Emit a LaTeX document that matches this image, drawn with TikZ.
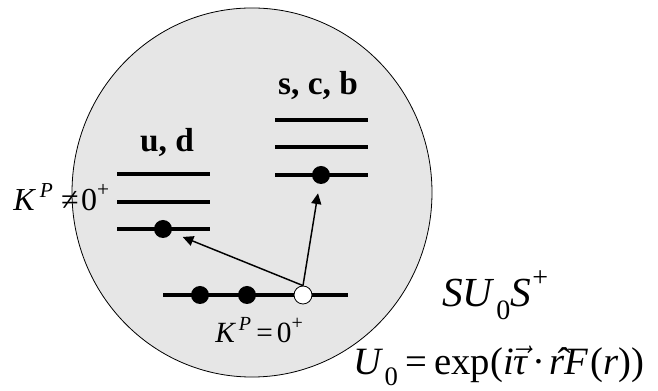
\documentclass[tikz,border=0pt]{standalone}
\usepackage{fix-cm}
\usepackage{fontspec}
\setmainfont{Liberation Serif}
\usetikzlibrary{arrows.meta}
\definecolor{bodygray}{RGB}{230,230,230}
\newcommand{\fsz}[1]{\fontsize{#1}{#1}\selectfont}
\tikzset{
  level/.style={line width=3pt},
  fulldot/.style={circle, fill=black, inner sep=0pt, minimum size=13.5pt},
  holedot/.style={circle, draw=black, fill=white, line width=0.6pt, inner sep=0pt, minimum size=13.5pt},
  jump/.style={line width=1.1pt, -{Triangle[length=8pt,width=7.5pt]}},
  flav/.style={anchor=base, inner sep=0pt, font=\fsz{25}\bfseries},
  lab/.style={anchor=base west, inner sep=0pt},
}
\begin{document}
\begin{tikzpicture}[x=0.75pt,y=-0.75pt]
\useasboundingbox (0,0) rectangle (658,391);
\fill[bodygray] (252,192.5) ellipse [x radius=135pt, y radius=138.4pt];
\draw[line width=0.6pt] (252,192.5) ellipse [x radius=135pt, y radius=138.4pt];
% u,d levels
\coordinate (ua) at (117,174); \coordinate (ub) at (210,174);
\coordinate (uc) at (117,202); \coordinate (ud) at (210,202);
\coordinate (ue) at (117,229); \coordinate (uf) at (210,229);
\draw[level] (ua) -- (ub);
\draw[level] (uc) -- (ud);
\draw[level] (ue) -- (uf);
% s,c,b levels
\coordinate (sa) at (275,120); \coordinate (sb) at (368,120);
\coordinate (sc) at (275,147); \coordinate (sd) at (368,147);
\coordinate (se) at (275,175); \coordinate (sf) at (368,175);
\draw[level] (sa) -- (sb);
\draw[level] (sc) -- (sd);
\draw[level] (se) -- (sf);
% ground level
\coordinate (ga) at (163,295); \coordinate (gb) at (348,295);
\draw[level] (ga) -- (gb);
% dots
\node[fulldot] (udot) at (163,229) {};
\node[fulldot] (sdot) at (321,175) {};
\node[fulldot] (g1) at (200,295) {};
\node[fulldot] (g2) at (247,295) {};
\node[holedot] (hole) at (303,295) {};
% arrows
\draw[jump, shorten >=9pt] (hole.north) -- (udot);
\draw[jump, shorten >=7pt] (hole.north) -- (sdot);
% labels
\node[flav] (udlab) at (167,152) {u, d};
\node[flav] (scblab) at (318,95) {s, c, b};
\node[lab, font=\fsz{24}] (kne) at (13,211)
  {\textit{K}\kern3pt\raisebox{0.42em}{\fsz{16}\textit{P}}\kern6pt≠\kern2pt0\raisebox{0.45em}{\fsz{16}+}};
\node[lab, font=\fsz{22}] (keq) at (215,343)
  {\textit{K}\kern2pt\raisebox{0.42em}{\fsz{15}\textit{P}}\kern4pt=\kern3pt0\raisebox{0.45em}{\fsz{15}+}};
\node[lab, font=\fsz{31}] (sus) at (442,307)
  {\textit{SU}\kern1pt\raisebox{-0.3em}{\fsz{21}0}\textit{S}\kern1pt\raisebox{0.5em}{\fsz{21}+}};
\node[lab, font=\fsz{29}] (uform) at (353,375)
  {\textit{U}\kern1pt\raisebox{-0.27em}{\fsz{20}0}\kern6pt=\kern5pt exp(\textit{i}$\vec{\hbox{\textit{τ}}}$\kern3pt·\kern3pt\^{\textit{r}}\textit{F}\kern1pt(\textit{r}))};
\end{tikzpicture}
\end{document}
